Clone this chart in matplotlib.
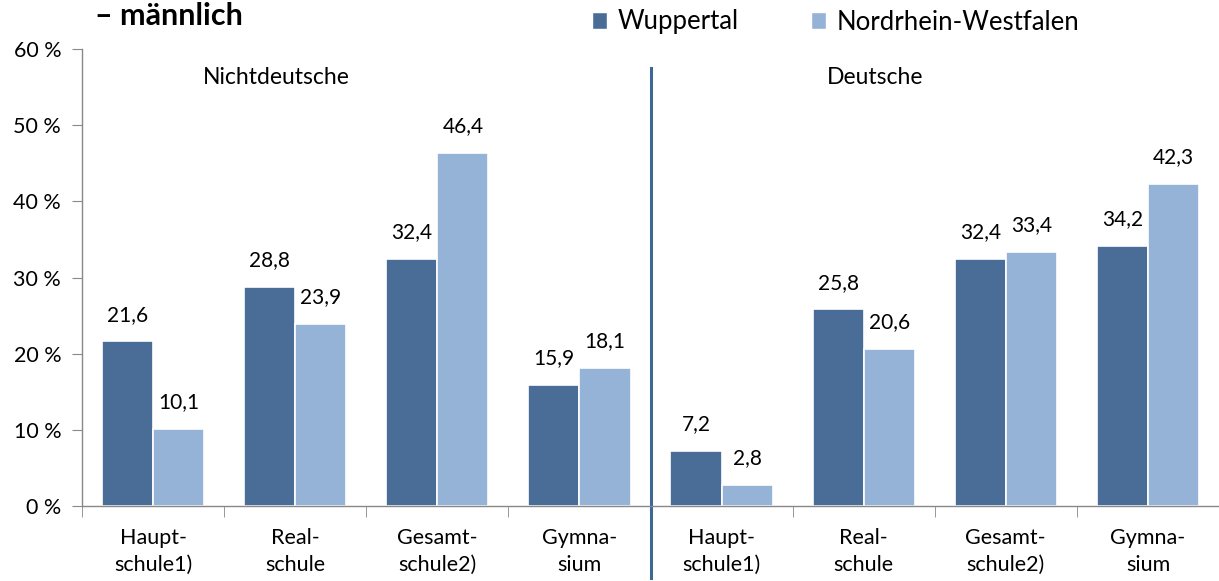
import matplotlib
matplotlib.use("Agg")
import matplotlib.pyplot as plt
from matplotlib.patches import Patch
import numpy as np

plt.rcParams['font.family'] = ['Lato', 'DejaVu Sans']

categories = ["Haupt-\nschule1)", "Real-\nschule", "Gesamt-\nschule2)", "Gymna-\nsium",
              "Haupt-\nschule1)", "Real-\nschule", "Gesamt-\nschule2)", "Gymna-\nsium"]
wuppertal = [21.6, 28.8, 32.4, 15.9, 7.2, 25.8, 32.4, 34.2]
nrw = [10.1, 23.9, 46.4, 18.1, 2.8, 20.6, 33.4, 42.3]
series_names = ["Wuppertal", "Nordrhein-Westfalen"]
group_names = ["Nichtdeutsche", "Deutsche"]
yticks = [0, 10, 20, 30, 40, 50, 60]
title = "– männlich"

c_dark = "#4A6D97"
c_light = "#95B3D7"
sep_color = "#3D6797"

fig = plt.figure(figsize=(12.19, 5.81), dpi=100)
ax = fig.add_axes([82/1219, 1-506/581, 1-82/1219, (506-49)/581])

x = np.arange(len(categories))
w = 0.36
b1 = ax.bar(x - w/2, wuppertal, w, color=c_dark, edgecolor="white", linewidth=1.2)
b2 = ax.bar(x + w/2, nrw, w, color=c_light, edgecolor="white", linewidth=1.2)

def fmt(v):
    return f"{v:.1f}".replace(".", ",")

for bars, vals in ((b1, wuppertal), (b2, nrw)):
    for r, v in zip(bars, vals):
        ax.annotate(fmt(v), (r.get_x() + r.get_width()/2, v), xytext=(0, 12),
                    textcoords="offset points", ha="center", va="bottom", fontsize=15)

ax.set_xlim(-0.5, len(categories) - 0.5)
ax.set_ylim(0, 60)
ax.set_yticks(yticks)
ax.set_yticklabels([f"{t} %" for t in yticks], fontsize=15.5)
ax.set_xticks(x)
ax.set_xticklabels(categories, fontsize=15.5, linespacing=1.4)
ax.tick_params(axis="x", length=0, pad=16)
ax.set_xticks(np.arange(-0.5, len(categories), 1), minor=True)
ax.tick_params(axis="x", which="minor", length=8, color="#888888", direction="out")
ax.tick_params(axis="y", length=7, color="#888888", pad=8)

for s in ("top", "right"):
    ax.spines[s].set_visible(False)
for s in ("left", "bottom"):
    ax.spines[s].set_color("#888888")
    ax.spines[s].set_linewidth(1.0)

# separator
ax.plot([3.5, 3.5], [(506-68)/457, (506-578)/457], color=sep_color, lw=2.2,
        transform=ax.get_xaxis_transform(), clip_on=False)

ax.text(0.87, (506-77)/457, group_names[0], transform=ax.get_xaxis_transform(), ha="center",
        va="center", fontsize=16.5)
ax.text(5.08, (506-77)/457, group_names[1], transform=ax.get_xaxis_transform(), ha="center",
        va="center", fontsize=16.5)

fig.text(95/1219, 1-25/581, title, fontsize=22, fontweight="bold", va="baseline", ha="left")

handles = [Patch(facecolor=c_dark, edgecolor="white"), Patch(facecolor=c_light, edgecolor="white")]
fig.legend(handles, series_names, loc="center left", bbox_to_anchor=(592/1219, 1-22/581),
           ncol=2, frameon=False, fontsize=18.5, handlelength=0.6, handleheight=0.6,
           handletextpad=0.4, columnspacing=2.8, borderaxespad=0, borderpad=0)

fig.savefig("out.png", dpi=100)
